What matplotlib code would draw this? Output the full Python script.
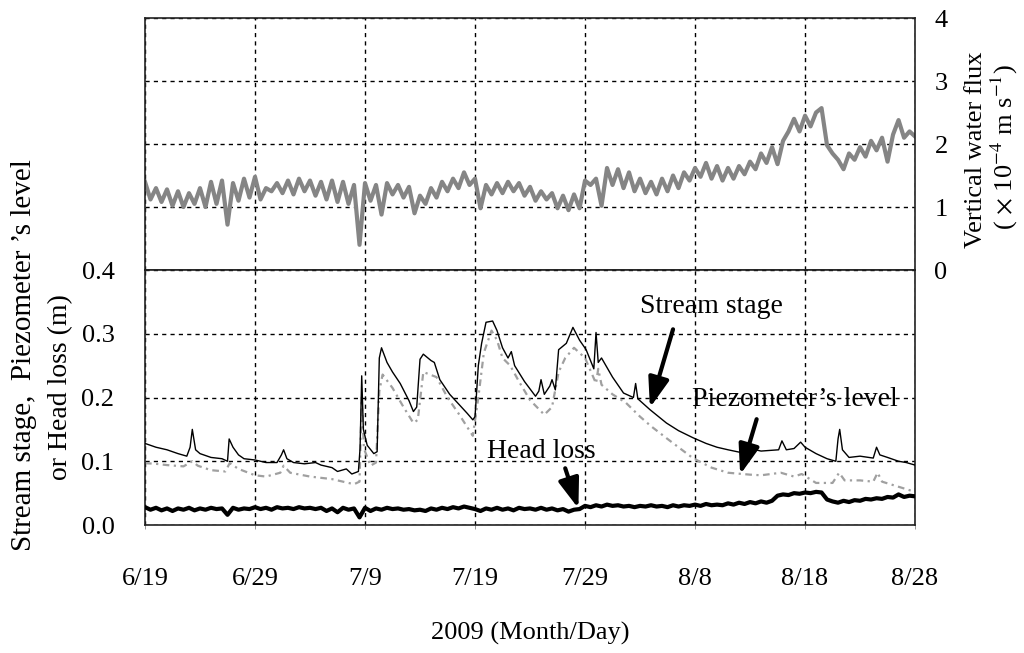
import numpy as np
import matplotlib.pyplot as plt

plt.rcParams['font.family'] = ['Liberation Serif', 'DejaVu Serif']
plt.rcParams['mathtext.fontset'] = 'stix'

# days since 6/19/2009
tick_days = [0, 10, 20, 30, 40, 50, 60, 70]
tick_labels = ['6/19', '6/29', '7/9', '7/19', '7/29', '8/8', '8/18', '8/28']

# vertical water flux (x 1e-4 m/s), half-day readings
flux_days = np.arange(0, 70.01, 0.5)
flux = [
    1.40, 1.12, 1.30, 1.08, 1.28, 1.02, 1.25, 1.00, 1.22, 1.05,
    1.30, 1.00, 1.40, 1.05, 1.42, 0.72, 1.38, 1.10, 1.45, 1.15,
    1.48, 1.12, 1.30, 1.25, 1.38, 1.22, 1.42, 1.20, 1.45, 1.25,
    1.42, 1.18, 1.40, 1.12, 1.42, 1.08, 1.40, 1.05, 1.35, 0.40,
    1.38, 1.10, 1.35, 0.88, 1.38, 1.20, 1.35, 1.15, 1.32, 0.90,
    1.18, 1.05, 1.30, 1.15, 1.40, 1.25, 1.45, 1.30, 1.55, 1.35,
    1.45, 0.98, 1.35, 1.20, 1.38, 1.22, 1.40, 1.25, 1.38, 1.18,
    1.32, 1.10, 1.25, 1.12, 1.22, 0.98, 1.18, 0.95, 1.20, 0.98,
    1.42, 1.35, 1.45, 1.02, 1.62, 1.35, 1.60, 1.30, 1.55, 1.25,
    1.45, 1.22, 1.40, 1.20, 1.45, 1.25, 1.50, 1.30, 1.55, 1.42,
    1.62, 1.48, 1.70, 1.45, 1.65, 1.42, 1.62, 1.45, 1.65, 1.52,
    1.72, 1.60, 1.85, 1.70, 1.95, 1.68, 2.05, 2.20, 2.40, 2.20,
    2.45, 2.28, 2.50, 2.57, 1.98, 1.85, 1.75, 1.60, 1.85, 1.75,
    1.95, 1.80, 2.05, 1.90, 2.10, 1.72, 2.15, 2.38, 2.10, 2.20,
    2.12,
]

# stream stage (m)
stream_days = [
    0, 1, 2, 3, 3.8, 4.1, 4.3, 4.6, 5, 6, 7, 7.5, 7.65, 8, 8.5, 9, 10, 11, 12,
    12.4, 12.6, 12.9, 13.5, 14.5, 15.5, 16, 17, 17.5, 18.3, 18.8, 19.4, 19.55,
    19.7, 19.85, 20.2, 20.8, 21.1, 21.3, 21.5, 22, 22.5, 23.2, 24, 24.4, 24.7,
    25.0, 25.3, 26, 26.3, 26.8, 27.7, 28.5, 29.3, 29.8, 30.0, 30.3, 30.6, 31.0,
    31.6, 32.0, 32.5, 33.0, 33.3, 33.6, 34.5, 35.5, 35.8, 36.0, 36.3, 36.8,
    37.0, 37.3, 37.6, 38.3, 38.9, 39.5, 40.1, 40.8, 41.0, 41.2, 41.5, 42.5,
    43.5, 44.4, 44.6, 44.8, 45.9, 47.4, 48.5, 49.8, 51, 52, 53, 54.1, 55, 56,
    57.6, 57.9, 58.3, 59, 59.6, 60, 61, 62, 62.8, 63.0, 63.15, 63.4, 64, 65,
    66.2, 66.5, 66.8, 67.5, 68.5, 69.2, 70,
]
stream = [
    0.128, 0.122, 0.118, 0.112, 0.108, 0.122, 0.150, 0.118, 0.112, 0.106,
    0.104, 0.100, 0.135, 0.122, 0.110, 0.104, 0.102, 0.098, 0.098, 0.110,
    0.118, 0.104, 0.098, 0.096, 0.098, 0.094, 0.090, 0.084, 0.088, 0.080,
    0.084, 0.120, 0.234, 0.150, 0.125, 0.112, 0.115, 0.262, 0.278, 0.255,
    0.240, 0.222, 0.195, 0.178, 0.185, 0.260, 0.268, 0.258, 0.255, 0.228,
    0.205, 0.190, 0.175, 0.165, 0.170, 0.250, 0.285, 0.318, 0.320, 0.305,
    0.278, 0.262, 0.272, 0.250, 0.225, 0.202, 0.210, 0.228, 0.205, 0.218,
    0.228, 0.212, 0.275, 0.285, 0.310, 0.290, 0.275, 0.245, 0.302, 0.255,
    0.262, 0.232, 0.207, 0.200, 0.222, 0.198, 0.181, 0.160, 0.148, 0.137,
    0.128, 0.122, 0.118, 0.114, 0.120, 0.116, 0.118, 0.132, 0.118, 0.120,
    0.130, 0.122, 0.112, 0.104, 0.100, 0.135, 0.150, 0.118, 0.106, 0.108,
    0.105, 0.122, 0.110, 0.106, 0.100, 0.098, 0.094,
]

# piezometer level (m)
piezo_days = [
    0, 1, 2, 3.5, 4.3, 4.8, 6, 7.3, 7.7, 8.5, 10, 11, 12.3, 12.6, 13.2, 15, 17,
    19, 19.5, 19.7, 19.9, 20.5, 21.0, 21.3, 21.6, 22.5, 23.5, 24.4, 24.8, 25.3,
    26.5, 27.5, 28.5, 29.8, 30.3, 30.8, 31.5, 32.0, 32.5, 33.2, 34.0, 35.0,
    36.3, 37.0, 37.6, 38.2, 39.0, 40.0, 41.0, 41.2, 41.5, 42.5, 43.7, 45, 46,
    47.5, 49.8, 51.5, 53, 55, 56, 57.8, 59, 59.7, 61, 62.5, 63.1, 63.6, 65,
    66.2, 66.6, 67, 68.5, 70,
]
piezo = [
    0.097, 0.096, 0.094, 0.092, 0.100, 0.093, 0.086, 0.084, 0.097, 0.088,
    0.078, 0.076, 0.082, 0.093, 0.082, 0.076, 0.072, 0.064, 0.068, 0.200,
    0.120, 0.093, 0.098, 0.210, 0.236, 0.215, 0.185, 0.160, 0.165, 0.240,
    0.232, 0.200, 0.175, 0.140, 0.200, 0.270, 0.305, 0.290, 0.262, 0.250,
    0.225, 0.196, 0.173, 0.185, 0.240, 0.262, 0.278, 0.262, 0.222, 0.245,
    0.220, 0.205, 0.192, 0.170, 0.155, 0.135, 0.105, 0.090, 0.082, 0.079,
    0.078, 0.082, 0.076, 0.080, 0.066, 0.066, 0.082, 0.070, 0.070, 0.068,
    0.082, 0.068, 0.060, 0.052,
]

# head loss (m), half-day readings
head_days = np.arange(0, 70.01, 0.5)
head = [
    0.028, 0.024, 0.027, 0.023, 0.026, 0.022, 0.026, 0.024, 0.027, 0.023,
    0.026, 0.024, 0.027, 0.025, 0.026, 0.016, 0.027, 0.024, 0.026, 0.025,
    0.028, 0.025, 0.027, 0.024, 0.028, 0.026, 0.027, 0.025, 0.028, 0.026,
    0.027, 0.025, 0.027, 0.022, 0.026, 0.020, 0.027, 0.024, 0.026, 0.012,
    0.027, 0.022, 0.026, 0.024, 0.027, 0.025, 0.026, 0.024, 0.025, 0.023,
    0.024, 0.022, 0.026, 0.024, 0.027, 0.025, 0.028, 0.026, 0.029, 0.027,
    0.025, 0.022, 0.026, 0.024, 0.027, 0.024, 0.026, 0.023, 0.027, 0.025,
    0.026, 0.024, 0.027, 0.024, 0.026, 0.023, 0.025, 0.021, 0.024, 0.025,
    0.030, 0.028, 0.031, 0.029, 0.032, 0.030, 0.031, 0.029, 0.030, 0.028,
    0.030, 0.029, 0.031, 0.029, 0.030, 0.028, 0.031, 0.029, 0.031, 0.030,
    0.032, 0.030, 0.033, 0.031, 0.032, 0.031, 0.034, 0.032, 0.035, 0.033,
    0.036, 0.034, 0.037, 0.035, 0.038, 0.046, 0.048, 0.047, 0.050, 0.049,
    0.051, 0.050, 0.052, 0.051, 0.040, 0.037, 0.035, 0.038, 0.036, 0.039,
    0.038, 0.041, 0.040, 0.042, 0.041, 0.044, 0.043, 0.048, 0.044, 0.046,
    0.045,
]

FS = 19
grid_kw = dict(color='black', linestyle=(0, (3, 3)), linewidth=1)

fig = plt.figure(figsize=(10.24, 6.53), dpi=100)
ax_top = fig.add_axes([0.1416, 0.5865, 0.752, 0.3859])
ax_bot = fig.add_axes([0.1416, 0.196, 0.752, 0.3905], sharex=ax_top)

# upper panel: flux on right-hand axis
ax_top.plot(flux_days, flux, color='#858585', linewidth=3.0)
ax_top.set_ylim(0, 4)
ax_top.set_yticks([0, 1, 2, 3, 4])
ax_top.yaxis.tick_right()
ax_top.tick_params(axis='y', length=0, pad=14, labelsize=FS)
ax_top.tick_params(axis='x', length=0, labelbottom=False)
ax_top.grid(True, **grid_kw)

# lower panel: water levels
ax_bot.plot(stream_days, stream, color='black', linewidth=1.0, zorder=3)
ax_bot.plot(piezo_days, piezo, color='#a0a0a0', linewidth=1.6,
            linestyle=(0, (3, 2, 1, 2)), zorder=2)
ax_bot.plot(head_days, head, color='black', linewidth=3.0, zorder=4)
ax_bot.set_ylim(0, 0.4)
ax_bot.set_yticks([0.0, 0.1, 0.2, 0.3, 0.4])
ax_bot.set_yticklabels(['0.0', '0.1', '0.2', '0.3', '0.4'])
ax_bot.set_xlim(0, 70)
ax_bot.set_xticks(tick_days)
ax_bot.set_xticklabels(tick_labels)
ax_bot.tick_params(axis='y', length=0, pad=22, labelsize=FS)
ax_bot.tick_params(axis='x', length=3, width=0.6, color='#888888',
                   pad=28, labelsize=FS)
ax_bot.grid(True, **grid_kw)

for ax in (ax_top, ax_bot):
    for sp in ax.spines.values():
        sp.set_linewidth(1.2)
        sp.set_color('#222222')

# labelled arrows
arrow_kw = dict(arrowstyle='-|>,head_length=1.0,head_width=0.35',
                color='black', lw=3, mutation_scale=18, shrinkA=0, shrinkB=0)
ax_bot.annotate('', xy=(45.9, 0.184), xytext=(48.0, 0.307), arrowprops=arrow_kw)
ax_bot.annotate('', xy=(54.1, 0.079), xytext=(55.6, 0.166), arrowprops=arrow_kw)
ax_bot.annotate('', xy=(39.4, 0.026), xytext=(38.2, 0.089), arrowprops=arrow_kw)
ax_bot.text(51.5, 0.342, 'Stream stage', fontsize=20, ha='center', va='center')
ax_bot.text(59.1, 0.197, 'Piezometer\u2019s level', fontsize=20,
            ha='center', va='center')
ax_bot.text(36.0, 0.115, 'Head loss', fontsize=20, ha='center', va='center')

# axis titles
fig.text(0.0235, 1 - 355 / 653, 'Stream stage,  Piezometer \u2019s level',
         rotation=90, fontsize=21, ha='center', va='center')
fig.text(0.0596, 1 - 387 / 653, 'or Head loss (m)',
         rotation=90, fontsize=20, ha='center', va='center')
fig.text(0.953, 1 - 150 / 653, 'Vertical water flux',
         rotation=90, fontsize=19, ha='center', va='center')
fig.text(0.981, 1 - 147 / 653, '( $\\times$ 10$^{-4}$ m s$^{-1}$)',
         rotation=90, fontsize=19, ha='center', va='center')
fig.text(530 / 1024, 1 - 633 / 653, '2009 (Month/Day)', fontsize=19,
         ha='center', va='center')

fig.savefig('out.png', dpi=100)
